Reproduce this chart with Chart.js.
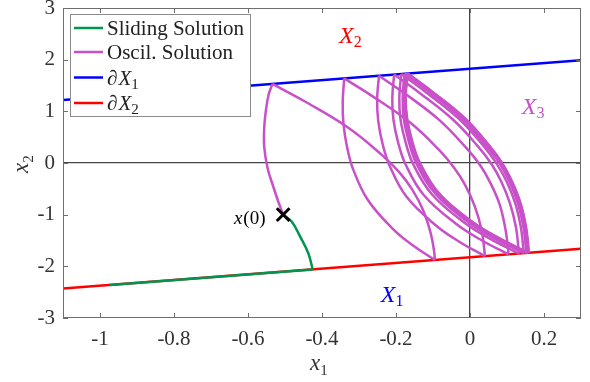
<!DOCTYPE html>
<html>
<head>
<meta charset="utf-8">
<script src="https://cdn.jsdelivr.net/npm/chart.js@4.4.1/dist/chart.umd.min.js"></script>
<style>
  html, body { margin: 0; padding: 0; background: #fff; }
  #wrap { width: 590px; height: 382px; position: relative; }
</style>
</head>
<body>
<div id="wrap"><canvas id="chart"></canvas></div>
<script>
// axis ticks
const xTicks = [-1, -0.8, -0.6, -0.4, -0.2, 0, 0.2];
const yTicks = [-3, -2, -1, 0, 1, 2, 3];

// switching boundaries (x1, x2)
const boundaryX1 = [[-1.1, 1.22], [0.3, 1.99]];
const boundaryX2 = [[-1.1, -2.43], [0.3, -1.66]];

// initial condition
const startPoint = [[-0.505, -1.0]];

// sliding solution: drop to dX2, then slide along it
const slidingCurve = [[-0.505, -1.0], [-0.482, -1.134], [-0.459, -1.425], [-0.437, -1.748], [-0.425, -2.059]];
const slidingEdge = [[-0.425, -2.059], [-0.973, -2.36]];

// oscillating solution, first rise from x(0) to dX1
const oscStart = [[-0.505, -1.0], [-0.518, -0.75], [-0.532, -0.45], [-0.547, -0.1], [-0.556, 0.3], [-0.556, 0.7], [-0.551, 1.05], [-0.544, 1.33], [-0.534, 1.531]];

// descending arcs dX1 -> dX2
const oscDown = [
  [[-0.534, 1.531], [-0.446, 1.19], [-0.328, 0.679], [-0.24, 0.168], [-0.192, -0.173], [-0.156, -0.514], [-0.126, -0.923], [-0.106, -1.366], [-0.097, -1.707], [-0.095, -1.877]],
  [[-0.34, 1.638], [-0.264, 1.294], [-0.161, 0.778], [-0.085, 0.262], [-0.044, -0.083], [-0.013, -0.427], [0.013, -0.84], [0.031, -1.287], [0.038, -1.631], [0.04, -1.803]],
  [[-0.246, 1.69], [-0.176, 1.344], [-0.082, 0.826], [-0.012, 0.307], [0.027, -0.039], [0.055, -0.385], [0.08, -0.8], [0.095, -1.249], [0.102, -1.595], [0.104, -1.768]],
  [[-0.205, 1.712], [-0.138, 1.366], [-0.047, 0.846], [0.021, 0.326], [0.058, -0.02], [0.085, -0.366], [0.108, -0.782], [0.124, -1.232], [0.13, -1.579], [0.132, -1.752]],
  [[-0.186, 1.723], [-0.12, 1.376], [-0.03, 0.856], [0.036, 0.336], [0.072, -0.011], [0.099, -0.358], [0.122, -0.774], [0.137, -1.225], [0.143, -1.572], [0.145, -1.745]],
  [[-0.177, 1.728], [-0.111, 1.381], [-0.022, 0.861], [0.043, 0.34], [0.08, -0.007], [0.106, -0.353], [0.129, -0.77], [0.144, -1.221], [0.15, -1.568], [0.152, -1.741]],
  [[-0.172, 1.73], [-0.106, 1.383], [-0.018, 0.863], [0.048, 0.342], [0.084, -0.005], [0.11, -0.351], [0.133, -0.768], [0.148, -1.219], [0.154, -1.566], [0.156, -1.739]],
  [[-0.169, 1.732], [-0.104, 1.385], [-0.015, 0.865], [0.05, 0.344], [0.086, -0.003], [0.112, -0.35], [0.135, -0.766], [0.15, -1.218], [0.156, -1.565], [0.158, -1.738]],
  [[-0.168, 1.733], [-0.103, 1.386], [-0.014, 0.866], [0.051, 0.345], [0.087, -0.002], [0.113, -0.349], [0.136, -0.765], [0.151, -1.217], [0.157, -1.564], [0.159, -1.737]]
];

// rising arcs dX2 -> dX1
const oscUp = [
  [[-0.095, -1.877], [-0.154, -1.596], [-0.208, -1.279], [-0.276, -0.717], [-0.316, -0.119], [-0.332, 0.302], [-0.342, 0.759], [-0.344, 1.181], [-0.34, 1.638]],
  [[0.04, -1.803], [-0.029, -1.524], [-0.092, -1.209], [-0.172, -0.65], [-0.217, -0.056], [-0.236, 0.363], [-0.248, 0.817], [-0.251, 1.236], [-0.246, 1.69]],
  [[0.104, -1.768], [0.03, -1.49], [-0.038, -1.176], [-0.125, -0.62], [-0.174, -0.028], [-0.194, 0.39], [-0.207, 0.842], [-0.21, 1.26], [-0.205, 1.712]],
  [[0.132, -1.752], [0.056, -1.474], [-0.014, -1.161], [-0.103, -0.605], [-0.154, -0.015], [-0.174, 0.403], [-0.188, 0.854], [-0.191, 1.271], [-0.186, 1.723]],
  [[0.145, -1.745], [0.068, -1.467], [-0.003, -1.155], [-0.093, -0.599], [-0.145, -0.009], [-0.165, 0.408], [-0.179, 0.86], [-0.182, 1.277], [-0.177, 1.728]],
  [[0.152, -1.741], [0.074, -1.463], [0.003, -1.151], [-0.088, -0.596], [-0.14, -0.006], [-0.16, 0.411], [-0.174, 0.862], [-0.178, 1.279], [-0.172, 1.73]],
  [[0.156, -1.739], [0.078, -1.461], [0.007, -1.149], [-0.085, -0.594], [-0.137, -0.004], [-0.157, 0.413], [-0.171, 0.864], [-0.175, 1.281], [-0.169, 1.732]],
  [[0.158, -1.738], [0.08, -1.46], [0.008, -1.148], [-0.083, -0.593], [-0.135, -0.003], [-0.156, 0.414], [-0.17, 0.865], [-0.174, 1.282], [-0.168, 1.733]]
];

const GREEN = '#00964f';
const PURPLE = '#c850c8';
const BLUE = '#0000ff';
const RED = '#ff0000';
const SERIF = '"Liberation Serif", "DejaVu Serif", serif';

const toPts = (arr) => arr.map(([x, y]) => ({ x, y }));

const lineSet = (label, pts, color, width, tension) => ({
  label,
  data: toPts(pts),
  borderColor: color,
  backgroundColor: color,
  borderWidth: width,
  showLine: true,
  pointRadius: 0,
  pointHoverRadius: 0,
  tension,
  fill: false
});

const oscSets = [lineSet('Oscil. Solution', oscStart, PURPLE, 2.5, 0.4)];
oscDown.forEach((arc, i) => {
  oscSets.push(lineSet('Oscil. Solution', arc, PURPLE, 2.5, 0.4));
  if (oscUp[i]) oscSets.push(lineSet('Oscil. Solution', oscUp[i], PURPLE, 2.5, 0.4));
});

const datasets = [
  {
    label: 'x(0)',
    data: toPts(startPoint),
    pointStyle: 'crossRot',
    pointRadius: 9,
    pointBorderWidth: 3,
    borderColor: '#000',
    backgroundColor: '#000',
    showLine: false
  },
  lineSet('Sliding Solution', slidingCurve, GREEN, 2.5, 0.4),
  lineSet('Sliding Solution', slidingEdge, GREEN, 2.5, 0),
  ...oscSets,
  lineSet('dX1', boundaryX1, BLUE, 2.5, 0),
  lineSet('dX2', boundaryX2, RED, 2.5, 0)
];

// draw a run of text pieces (italic / subscript) starting at x, baseline y
const drawMath = (ctx, parts, x, y) => {
  let cx = x;
  parts.forEach((p) => {
    ctx.font = `${p.italic ? 'italic ' : ''}${p.size}px ${SERIF}`;
    ctx.fillText(p.t, cx, y + (p.dy || 0));
    cx += ctx.measureText(p.t).width + (p.gap || 0);
  });
};

const legendRows = [
  { color: GREEN, parts: [{ t: 'Sliding Solution', size: 21 }] },
  { color: PURPLE, parts: [{ t: 'Oscil. Solution', size: 21 }] },
  { color: BLUE, parts: [{ t: '\u2202', size: 21, gap: 1 }, { t: 'X', italic: true, size: 21 }, { t: '1', size: 15, dy: 4 }] },
  { color: RED, parts: [{ t: '\u2202', size: 21, gap: 1 }, { t: 'X', italic: true, size: 21 }, { t: '2', size: 15, dy: 4 }] }
];

const decorations = {
  id: 'decorations',
  afterDatasetsDraw(chart) {
    const { ctx, scales: { x, y } } = chart;
    ctx.save();
    ctx.textBaseline = 'alphabetic';
    ctx.textAlign = 'left';
    ctx.fillStyle = RED;
    drawMath(ctx, [{ t: 'X', italic: true, size: 24 }, { t: '2', size: 16, dy: 4 }], x.getPixelForValue(-0.354), y.getPixelForValue(2.32));
    ctx.fillStyle = PURPLE;
    drawMath(ctx, [{ t: 'X', italic: true, size: 24 }, { t: '3', size: 16, dy: 4 }], x.getPixelForValue(0.14), y.getPixelForValue(0.94));
    ctx.fillStyle = BLUE;
    drawMath(ctx, [{ t: 'X', italic: true, size: 24 }, { t: '1', size: 16, dy: 4 }], x.getPixelForValue(-0.241), y.getPixelForValue(-2.69));
    ctx.fillStyle = '#000';
    drawMath(ctx, [{ t: 'x', italic: true, size: 19, gap: 1 }, { t: '(0)', size: 19 }], x.getPixelForValue(-0.638), y.getPixelForValue(-1.19));
    ctx.restore();
  },
  afterDraw(chart) {
    const { ctx, chartArea: a } = chart;
    const { x, y } = chart.scales;
    ctx.save();

    // box + inward ticks
    ctx.strokeStyle = '#6e6e6e';
    ctx.lineWidth = 1;
    ctx.strokeRect(a.left + 0.5, a.top + 0.5, a.right - a.left - 1, a.bottom - a.top - 1);
    ctx.beginPath();
    xTicks.forEach((v) => {
      const px = Math.round(x.getPixelForValue(v)) + 0.5;
      ctx.moveTo(px, a.bottom); ctx.lineTo(px, a.bottom - 5);
      ctx.moveTo(px, a.top); ctx.lineTo(px, a.top + 5);
    });
    yTicks.forEach((v) => {
      const py = Math.round(y.getPixelForValue(v)) + 0.5;
      ctx.moveTo(a.left, py); ctx.lineTo(a.left + 5, py);
      ctx.moveTo(a.right, py); ctx.lineTo(a.right - 5, py);
    });
    ctx.stroke();

    // axis titles
    ctx.fillStyle = '#333';
    ctx.textAlign = 'left';
    ctx.textBaseline = 'alphabetic';
    drawMath(ctx, [{ t: 'x', italic: true, size: 23 }, { t: '1', size: 15, dy: 5 }], (a.left + a.right) / 2 - 12, 370);
    ctx.save();
    ctx.translate(28, (a.top + a.bottom) / 2 + 10);
    ctx.rotate(-Math.PI / 2);
    drawMath(ctx, [{ t: 'x', italic: true, size: 23 }, { t: '2', size: 15, dy: 5 }], 0, 0);
    ctx.restore();

    // legend
    const box = { left: 70.5, top: 14.5, width: 180, height: 102 };
    ctx.fillStyle = '#fff';
    ctx.fillRect(box.left, box.top, box.width, box.height);
    ctx.strokeStyle = '#8a8a8a';
    ctx.strokeRect(box.left, box.top, box.width, box.height);
    const rowY = [28, 52, 77.5, 103];
    legendRows.forEach((row, i) => {
      ctx.strokeStyle = row.color;
      ctx.lineWidth = 2.5;
      ctx.beginPath();
      ctx.moveTo(74, rowY[i]);
      ctx.lineTo(103, rowY[i]);
      ctx.stroke();
      ctx.fillStyle = '#222';
      drawMath(ctx, row.parts, 107, rowY[i] + 7);
    });
    ctx.restore();
  }
};

const tickFont = { family: SERIF, size: 21 };

new Chart(document.getElementById('chart'), {
  type: 'scatter',
  data: { datasets },
  options: {
    responsive: true,
    maintainAspectRatio: false,
    animation: false,
    events: [],
    layout: { autoPadding: false, padding: { left: 0, right: 9, top: 8, bottom: 0 } },
    plugins: {
      legend: { display: false },
      tooltip: { enabled: false }
    },
    scales: {
      x: {
        type: 'linear',
        min: -1.1,
        max: 0.3,
        afterBuildTicks: (s) => { s.ticks = xTicks.map((value) => ({ value })); },
        afterFit: (s) => { s.height = 64; s.paddingLeft = 0; s.paddingRight = 0; },
        grid: {
          color: (c) => (c.tick && c.tick.value === 0 ? '#454545' : 'rgba(0,0,0,0)'),
          lineWidth: 1.3,
          drawTicks: false
        },
        border: { display: false },
        ticks: { font: tickFont, color: '#333', padding: 9, maxRotation: 0, callback: (v) => String(v) }
      },
      y: {
        type: 'linear',
        min: -3,
        max: 3,
        afterBuildTicks: (s) => { s.ticks = yTicks.map((value) => ({ value })); },
        afterFit: (s) => { s.width = 63; s.paddingTop = 0; s.paddingBottom = 0; },
        grid: {
          color: (c) => (c.tick && c.tick.value === 0 ? '#454545' : 'rgba(0,0,0,0)'),
          lineWidth: 1.3,
          drawTicks: false
        },
        border: { display: false },
        ticks: { font: tickFont, color: '#333', padding: 8, callback: (v) => String(v) }
      }
    }
  },
  plugins: [decorations]
});
</script>
</body>
</html>
